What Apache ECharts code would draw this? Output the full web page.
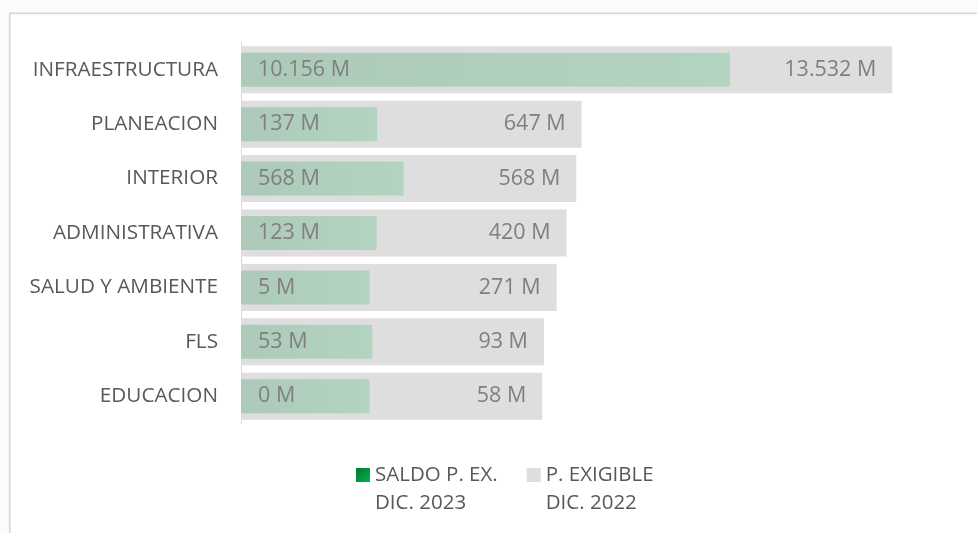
<!DOCTYPE html>
<html>
<head>
<meta charset="utf-8">
<script src="https://cdn.jsdelivr.net/npm/echarts@6/dist/echarts.min.js"></script>
<style>
  html, body { margin: 0; padding: 0; background: #fbfbfb; }
  #chart { width: 977px; height: 533px; }
</style>
</head>
<body>
<div id="chart"></div>
<script>
// categorias (de arriba hacia abajo)
const categories = ["INFRAESTRUCTURA", "PLANEACION", "INTERIOR", "ADMINISTRATIVA", "SALUD Y AMBIENTE", "FLS", "EDUCACION"];
// largo de las barras (unidades del eje)
const exigibleBars = [13532, 7076, 6966, 6764, 6557, 6293, 6259];
const saldoBars = [10156, 2830, 3377, 2816, 2670, 2726, 2670];
// etiquetas de datos
const exigibleLabels = ["13.532 M", "647 M", "568 M", "420 M", "271 M", "93 M", "58 M"];
const saldoLabels = ["10.156 M", "137 M", "568 M", "123 M", "5 M", "53 M", "0 M"];
const seriesNames = ["SALDO P. EX.\nDIC. 2023", "P. EXIGIBLE\nDIC. 2022"];

const font = "'Open Sans', 'Noto Sans', sans-serif";
// cuadrado arriba, alineado con la primera linea del texto de la leyenda
const legendIcon = "path://M0,0H14V14H0Z M0,41.9H0.1V42H0Z";
const myChart = echarts.init(document.getElementById("chart"));

const options = {
  backgroundColor: "#fbfbfb",
  animation: false,
  graphic: [
    {
      type: "rect",
      z: -10,
      shape: { x: 9.8, y: 13.3, width: 1000, height: 600 },
      style: { fill: "#fff", stroke: "#d9d9d9", lineWidth: 1.8 },
    },
  ],
  grid: {
    left: 241,
    top: 42.5,
    width: 722,
    height: 381,
  },
  xAxis: {
    type: "value",
    min: 0,
    max: 15000,
    show: false,
  },
  yAxis: [
    {
      type: "category",
      data: categories,
      inverse: true,
      axisTick: { show: false },
      axisLine: { lineStyle: { color: "#d9d9d9", width: 1 } },
      axisLabel: {
        margin: 23,
        color: "#595959",
        fontFamily: font,
        fontSize: 20.7,
      },
    },
    {
      type: "category",
      data: categories,
      inverse: true,
      show: false,
    },
  ],
  legend: {
    left: 351,
    top: 456,
    icon: legendIcon,
    itemWidth: 14,
    itemHeight: 42,
    itemGap: 29,
    data: [
      {
        name: seriesNames[0],
        itemStyle: {
          color: new echarts.graphic.LinearGradient(0, 0, 1, 0.33, [
            { offset: 0, color: "#00792f" },
            { offset: 1, color: "#00b050" },
          ]),
        },
      },
      { name: seriesNames[1], itemStyle: { color: "#dedede" } },
    ],
    textStyle: {
      color: "#595959",
      fontFamily: font,
      fontSize: 20.5,
      lineHeight: 28,
    },
  },
  series: [
    {
      name: seriesNames[1],
      type: "bar",
      yAxisIndex: 0,
      data: exigibleBars,
      barWidth: 47,
      itemStyle: { color: "#dedede" },
      label: {
        show: true,
        position: "insideRight",
        distance: 16,
        color: "#7f7f7f",
        fontFamily: font,
        fontSize: 21.5,
        formatter: (p) => exigibleLabels[p.dataIndex],
      },
    },
    {
      name: seriesNames[0],
      type: "bar",
      yAxisIndex: 1,
      data: saldoBars,
      barWidth: 34,
      itemStyle: {
        color: new echarts.graphic.LinearGradient(0, 0, 1, 0, [
          { offset: 0, color: "#adc9b9" },
          { offset: 1, color: "#b3d4c0" },
        ]),
      },
      label: {
        show: true,
        position: "insideLeft",
        distance: 17,
        color: "#7f7f7f",
        fontFamily: font,
        fontSize: 21.5,
        formatter: (p) => saldoLabels[p.dataIndex],
      },
    },
  ],
};

myChart.setOption(options);
</script>
</body>
</html>
